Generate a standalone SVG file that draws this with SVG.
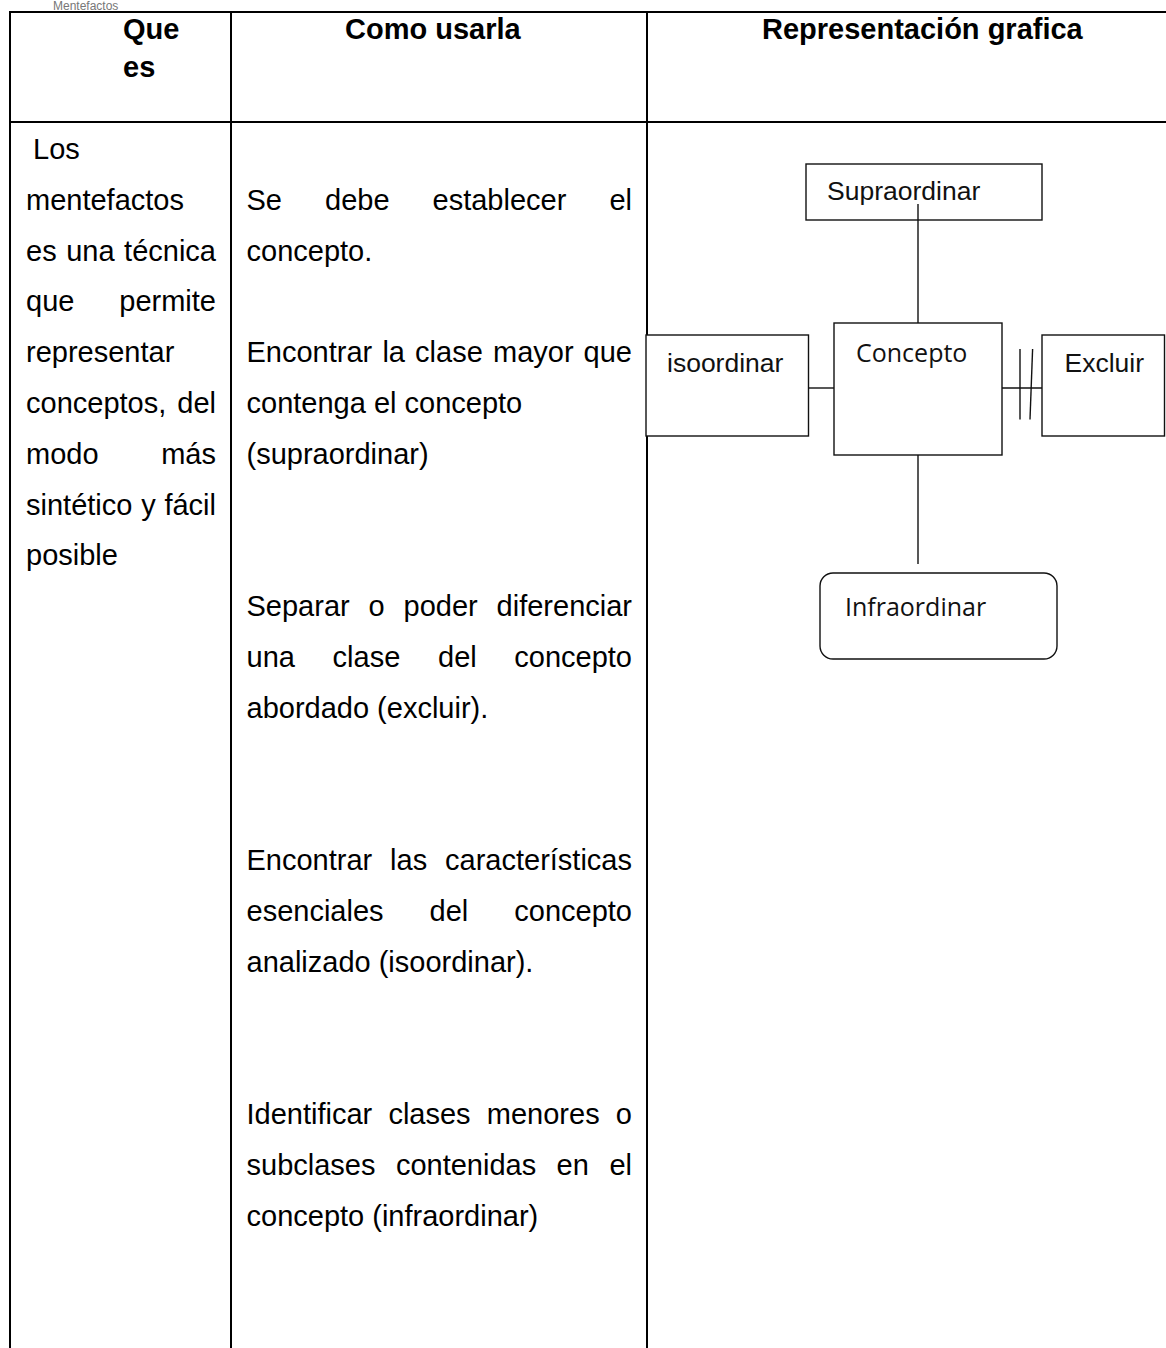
<svg xmlns="http://www.w3.org/2000/svg" width="1166" height="1348" viewBox="0 0 1166 1348">
<style>
.tbl{stroke:#000;stroke-width:2;fill:none}
.h{font-family:"Liberation Sans",Arial,sans-serif;font-weight:bold;font-size:29px;fill:#000}
.b{font-family:"Liberation Sans",Arial,sans-serif;font-size:29px;fill:#000}
.e{text-anchor:end}
.box{fill:#fff;stroke:#111;stroke-width:1.4}
.dl{font-family:"Liberation Sans",Arial,sans-serif;font-size:26.5px;fill:#111}
.dc{font-family:"Open Sans","Noto Sans",sans-serif;font-size:25px;fill:#111}
.cn{stroke:#111;stroke-width:1.4;fill:none}
.top{font-family:"Liberation Sans",Arial,sans-serif;font-size:12px;fill:#777}
</style>
<rect width="1166" height="1348" fill="#fff"/>
<text class="top" x="53" y="9.5">Mentefactos</text>
<g id="table">
<line class="tbl" x1="9" y1="12" x2="1166" y2="12"/>
<line class="tbl" x1="10" y1="11" x2="10" y2="1348"/>
<line class="tbl" x1="231" y1="11" x2="231" y2="1348"/>
<line class="tbl" x1="647" y1="11" x2="647" y2="1348"/>
<line class="tbl" x1="9" y1="122" x2="1166" y2="122"/>
</g>
<g id="header">
<text class="h" x="123" y="39">Que</text>
<text class="h" x="123" y="77">es</text>
<text class="h" x="345" y="39">Como usarla</text>
<text class="h" x="762" y="39">Representación grafica</text>
</g>
<g id="col-que-es">
<text class="b" x="33" y="159"> Los</text>
<text class="b" x="26" y="209.8">mentefactos</text>
<text class="b" y="260.6"><tspan x="26">es</tspan><tspan x="66.2">una</tspan><tspan class="e" x="216">técnica</tspan></text>
<text class="b" y="311.4"><tspan x="26">que</tspan></text>
<text class="b e" x="216" y="311.4">permite</text>
<text class="b" x="26" y="362.2">representar</text>
<text class="b" x="26" y="413">conceptos,</text>
<text class="b e" x="216" y="413">del</text>
<text class="b" x="26" y="463.8">modo</text>
<text class="b e" x="216" y="463.8">más</text>
<text class="b" y="514.6"><tspan x="26">sintético</tspan><tspan x="141.2">y</tspan></text>
<text class="b e" x="216" y="514.6">fácil</text>
<text class="b" x="26" y="565.4">posible</text>
</g>
<g id="col-como-usarla">
<text class="b" y="209.8"><tspan x="246.5">Se</tspan><tspan x="325">debe</tspan><tspan x="432.5">establecer</tspan></text>
<text class="b e" x="632" y="209.8">el</text>
<text class="b" x="246.5" y="260.6">concepto.</text>
<text class="b" y="362.2"><tspan x="246.5">Encontrar</tspan><tspan x="382.4">la</tspan><tspan x="415.1">clase</tspan><tspan x="493">mayor</tspan></text>
<text class="b e" x="632" y="362.2">que</text>
<text class="b" x="246.5" y="413">contenga el concepto</text>
<text class="b" x="246.5" y="463.8">(supraordinar)</text>
<text class="b" y="616.2"><tspan x="246.5">Separar</tspan><tspan x="368.6">o</tspan><tspan x="403.6">poder</tspan></text>
<text class="b e" x="632" y="616.2">diferenciar</text>
<text class="b" y="667"><tspan x="246.5">una</tspan><tspan x="332.6">clase</tspan><tspan x="438">del</tspan></text>
<text class="b e" x="632" y="667">concepto</text>
<text class="b" x="246.5" y="717.8">abordado (excluir).</text>
<text class="b" y="870.2"><tspan x="246.5">Encontrar</tspan><tspan x="390.1">las</tspan></text>
<text class="b e" x="632" y="870.2">características</text>
<text class="b" y="921"><tspan x="246.5">esenciales</tspan><tspan x="429.5">del</tspan></text>
<text class="b e" x="632" y="921">concepto</text>
<text class="b" x="246.5" y="971.8">analizado (isoordinar).</text>
<text class="b" y="1124.2"><tspan x="246.5">Identificar</tspan><tspan x="388.4">clases</tspan><tspan x="486.8">menores</tspan></text>
<text class="b e" x="632" y="1124.2">o</text>
<text class="b" y="1175"><tspan x="246.5">subclases</tspan><tspan x="395.9">contenidas</tspan><tspan x="556.6">en</tspan></text>
<text class="b e" x="632" y="1175">el</text>
<text class="b" x="246.5" y="1225.8">concepto (infraordinar)</text>
</g>
<g id="connectors">
<line class="cn" x1="918" y1="204" x2="918" y2="323"/>
<line class="cn" x1="806" y1="388" x2="834" y2="388"/>
<line class="cn" x1="1002" y1="388" x2="1042" y2="388"/>
<line class="cn" x1="1020" y1="349" x2="1020" y2="419.5"/>
<line class="cn" x1="1032.6" y1="349" x2="1030" y2="419.5"/>
<line class="cn" x1="918" y1="455" x2="918" y2="564"/>
</g>
<g id="node-supraordinar">
<rect class="box" x="806" y="164" width="236" height="56" style="fill:none"/>
<text class="dl" x="827" y="200">Supraordinar</text>
</g>
<g id="node-concepto">
<rect class="box" x="834" y="323" width="168" height="132"/>
<text class="dc" x="856" y="362">Concepto</text>
</g>
<g id="node-isoordinar">
<rect class="box" x="646" y="335" width="162.5" height="101"/>
<text class="dl" x="667" y="371.5">isoordinar</text>
</g>
<g id="node-excluir">
<rect class="box" x="1042" y="335" width="122.5" height="101"/>
<text class="dl" x="1064.5" y="371.5">Excluir</text>
</g>
<g id="node-infraordinar">
<rect class="box" x="820" y="573" width="237" height="86" rx="13"/>
<text class="dc" x="845" y="616">Infraordinar</text>
</g>
</svg>
